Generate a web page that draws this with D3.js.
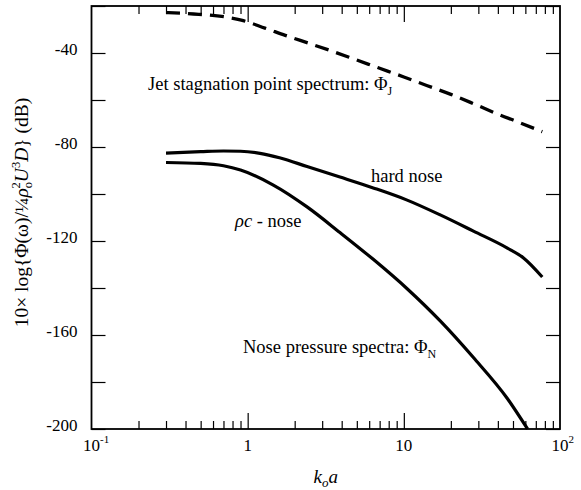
<!DOCTYPE html>
<html>
<head>
<meta charset="utf-8">
<script src="https://cdn.jsdelivr.net/npm/d3@7"></script>
<style>
  body { margin: 0; background: #fff; }
  svg text { font-family: "Liberation Serif", "Times New Roman", serif; fill: #000; }
</style>
</head>
<body>
<div id="chart"></div>
<script>
// values (k_o a, dB)
const kJet = [0.3, 0.45, 0.66, 0.91, 1.29, 1.74, 2.5, 3.5, 5, 7, 10, 14, 20, 28, 40, 56, 77];
const phiJet = [-22.8, -23.4, -24.3, -26, -29.4, -32.5, -36, -39.3, -43, -46.5, -50.2, -53.8, -57.6, -61.6, -66, -69.8, -73.5];

const kHard = [0.3, 0.5, 0.7, 0.9, 1.2, 1.6, 2.4, 3.9, 6.37, 10.5, 17.1, 27.9, 46, 58.4, 77];
const phiHard = [-82.6, -82, -81.7, -81.8, -82.7, -84.6, -88.3, -92.8, -97.4, -102.6, -108.9, -115.8, -123, -127.2, -135.3];

const kRhoC = [0.3, 0.5, 0.7, 0.9, 1.46, 2.4, 3.9, 6.37, 10.5, 17.1, 27.9, 46, 62];
const phiRhoC = [-86.6, -87, -88, -89.8, -96.2, -105.5, -116.4, -127.8, -140.3, -154, -169.6, -187, -200];

const yTicks = [-200, -180, -160, -140, -120, -100, -80, -60, -40, -20];
const yTickLabels = [-40, -80, -120, -160, -200];
const xMajor = [1, 10];
const xMinor = [0.2, 0.3, 0.4, 0.5, 0.6, 0.7, 0.8, 0.9, 2, 3, 4, 5, 6, 7, 8, 9, 20, 30, 40, 50, 60, 70, 80, 90];
const xTickVals = [0.1, 1, 10, 100];
const xTickBase = ["10", "1", "10", "10"];
const xTickExp = ["-1", "", "", "2"];

const margin = { top: 6, right: 21, bottom: 61, left: 91.5 },
    width = 581 - margin.left - margin.right,
    height = 490 - margin.top - margin.bottom;

const svg = d3.select("#chart")
    .append("svg")
    .attr("width", 581)
    .attr("height", 490)
    .append("g")
    .attr("transform", `translate(${margin.left},${margin.top})`);

const x = d3.scaleLog().domain([0.1, 100]).range([0, width]);
const y = d3.scaleLinear().domain([-200, -20]).range([height, 0]);

// ticks, all pointing inward
function tickStyle(g) {
    g.select(".domain").remove();
    g.selectAll("line").attr("stroke", "#000").attr("stroke-width", 1.2);
    g.selectAll("text").remove();
}
svg.append("g").attr("transform", `translate(0,${height})`)
    .call(d3.axisBottom(x).tickValues(xMajor).tickSize(-16)).call(tickStyle);
svg.append("g").attr("transform", `translate(0,${height})`)
    .call(d3.axisBottom(x).tickValues(xMinor).tickSize(-8)).call(tickStyle);
svg.append("g")
    .call(d3.axisTop(x).tickValues(xMajor).tickSize(-16)).call(tickStyle);
svg.append("g")
    .call(d3.axisTop(x).tickValues(xMinor).tickSize(-8)).call(tickStyle);
svg.append("g")
    .call(d3.axisLeft(y).tickValues(yTicks).tickSize(-14)).call(tickStyle);
svg.append("g").attr("transform", `translate(${width},0)`)
    .call(d3.axisRight(y).tickValues(yTicks).tickSize(-14)).call(tickStyle);

// frame
svg.append("rect")
    .attr("x", 0).attr("y", 0)
    .attr("width", width).attr("height", height)
    .attr("fill", "none")
    .attr("stroke", "#000")
    .attr("stroke-width", 1.8);

// y tick labels
svg.selectAll(".ylab")
    .data(yTickLabels)
    .join("text")
    .attr("class", "ylab")
    .attr("x", -14)
    .attr("y", d => y(d) - 4)
    .attr("dy", "0.35em")
    .attr("text-anchor", "end")
    .attr("font-size", 17)
    .text(d => d);

// x tick labels: the base is centred on the tick, exponent hangs after it
const xl = svg.selectAll(".xlab")
    .data(xTickVals)
    .join("text")
    .attr("class", "xlab")
    .attr("x", (d, i) => x(d) - xTickBase[i].length * 8.5 / 2)
    .attr("y", height + 22)
    .attr("font-size", 17);
xl.append("tspan").text((d, i) => xTickBase[i]);
xl.append("tspan")
    .attr("font-size", 11)
    .attr("dy", -8)
    .text((d, i) => xTickExp[i]);

// axis titles
const xt = svg.append("text")
    .attr("x", width / 2)
    .attr("y", height + 54)
    .attr("text-anchor", "middle")
    .attr("font-size", 19)
    .attr("font-style", "italic");
xt.append("tspan").text("k");
xt.append("tspan").attr("font-size", 13).attr("dy", 4).text("o");
xt.append("tspan").attr("dy", -4).text("a");

const yt = svg.append("text")
    .attr("transform", `translate(${-64},${height / 2 - 5}) rotate(-90)`)
    .attr("text-anchor", "middle")
    .attr("font-size", 19.5);
yt.append("tspan").text("10× log{Φ(ω)/¼");
yt.append("tspan").attr("font-style", "italic").text("ρ");
yt.append("tspan").attr("font-size", 12.5).attr("dy", 4).text("o");
yt.append("tspan").attr("font-size", 12.5).attr("dx", -6.5).attr("dy", -12).text("2");
yt.append("tspan").attr("font-style", "italic").attr("dy", 8).text("U");
yt.append("tspan").attr("font-size", 12.5).attr("dy", -8).text("3");
yt.append("tspan").attr("font-style", "italic").attr("dy", 8).text("D");
yt.append("tspan").text("} (dB)");

// curves
const line = d3.line()
    .x(d => x(d[0]))
    .y(d => y(d[1]))
    .curve(d3.curveMonotoneX);

svg.append("path")
    .datum(d3.zip(kJet, phiJet))
    .attr("fill", "none")
    .attr("stroke", "#000")
    .attr("stroke-width", 3.3)
    .attr("stroke-dasharray", "14,8")
    .attr("d", line);

svg.append("path")
    .datum(d3.zip(kHard, phiHard))
    .attr("fill", "none")
    .attr("stroke", "#000")
    .attr("stroke-width", 3.2)
    .attr("d", line);

svg.append("path")
    .datum(d3.zip(kRhoC, phiRhoC))
    .attr("fill", "none")
    .attr("stroke", "#000")
    .attr("stroke-width", 3.2)
    .attr("d", line);

// annotations
const jet = svg.append("text")
    .attr("x", 148 - margin.left)
    .attr("y", 90 - margin.top)
    .attr("font-size", 18.5);
jet.append("tspan").text("Jet stagnation point spectrum: Φ");
jet.append("tspan").attr("font-size", 12).attr("dy", 5).text("J");

svg.append("text")
    .attr("x", 371 - margin.left)
    .attr("y", 182 - margin.top)
    .attr("font-size", 18.5)
    .text("hard nose");

const rho = svg.append("text")
    .attr("x", 235 - margin.left)
    .attr("y", 227 - margin.top)
    .attr("font-size", 18.5);
rho.append("tspan").attr("font-style", "italic").text("ρc");
rho.append("tspan").text(" - nose");

const nose = svg.append("text")
    .attr("x", 243 - margin.left)
    .attr("y", 353 - margin.top)
    .attr("font-size", 18.5);
nose.append("tspan").text("Nose pressure spectra: Φ");
nose.append("tspan").attr("font-size", 12).attr("dy", 5).text("N");
</script>
</body>
</html>
